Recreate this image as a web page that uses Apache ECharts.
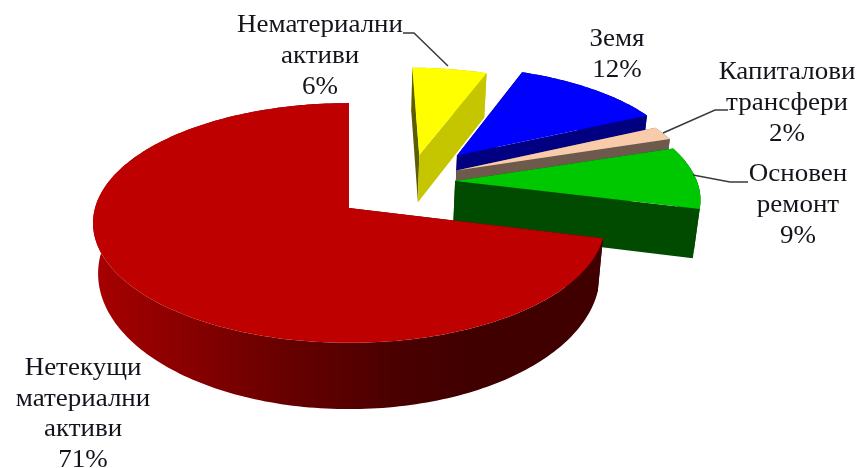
<!DOCTYPE html>
<html><head><meta charset="utf-8">
<style>html,body{margin:0;padding:0;background:#fff}#c{width:862px;height:468px;filter:blur(0.45px)}</style>
<script src="https://cdn.jsdelivr.net/npm/echarts@6/dist/echarts.min.js"></script>
</head><body><div id="c"></div>
<script>
// data
const names = ['Нематериални\nактиви', 'Земя', 'Капиталови\nтрансфери', 'Основен\nремонт', 'Нетекущи\nматериални\nактиви'];
const values = [6, 12, 2, 9, 71];

// styles
const topColors = ['#ffff00', '#0000ff', '#f8ccaa', '#00c800', '#be0000'];
const wallEnd = ['#c6c600', '#000080', '#6e5a4c', '#004b00', '#400000'];
const wallStart = ['#5c5c00', '#000060', '#6e5a4c', '#004b00', '#400000'];

// layout: projection of a tilted disc, and how far each slice is pulled out of it
const vx = 349, vy = 208, R = 254, Ry = 118, K = 0.125, H = 50, HN = 12, KZ = 0.02;
const pullU = [0.293, 0.45, 0.44, 0.43, 0];
const pullV = [-0.477, -0.47, -0.33, -0.235, 0];
const sliceScale = [0.92, 0.94, 0.97, 0.98, 1];
const labelPos = [[320, 25.5], [617, 39.5], [787, 72], [798, 174.5], [83, 369]];
const leaders = [
  [[403, 33], [414, 33], [448, 66]],
  null,
  [[663, 133], [715, 110], [728, 110]],
  [[693, 175], [730, 182], [748, 182]],
  null
];
const rimShade = { x0: 91, x1: 600, stops: [[91, '#a80000'], [158, '#920000'], [276, '#6a0000'], [395, '#4a0000'], [474, '#400000'], [600, '#400000']] };

const total = values.reduce((a, b) => a + b, 0);
const toRad = v => v / total * Math.PI * 2;
const starts = [];
values.reduce((acc, v, i) => { starts[i] = acc; return acc + toRad(v); }, 0);

function project(u, v, z) {
  const w = 1 - K * v + (z ? KZ : 0);
  return [vx + R * u / w, vy + (Ry * v + (z ? H + HN * Math.max(v, 0) : 0)) / w];
}
function rim(i, a, z) {
  const s = sliceScale[i];
  return project(pullU[i] + s * Math.sin(a), pullV[i] - s * Math.cos(a), z);
}
function poly(points, fill) {
  return { type: 'polygon', shape: { points }, style: { fill } };
}

function renderItem(params, api) {
  const i = params.dataIndex;
  const a0 = starts[i], a1 = a0 + toRad(api.value(0));
  const apexT = project(pullU[i], pullV[i], false), apexB = project(pullU[i], pullV[i], true);
  const steps = Math.max(8, Math.round((a1 - a0) / 0.02));
  const arcT = [], arcB = [];
  for (let s = 0; s <= steps; s++) {
    const a = a0 + (a1 - a0) * s / steps;
    arcT.push(rim(i, a, false));
    arcB.push(rim(i, a, true));
  }
  const shade = {
    type: 'linear', global: true, x: rimShade.x0, y: 0, x2: rimShade.x1, y2: 0,
    colorStops: rimShade.stops.map(([x, color]) => ({ offset: (x - rimShade.x0) / (rimShade.x1 - rimShade.x0), color }))
  };
  const children = [
    poly(arcT.concat(arcB.slice().reverse()), i === 4 ? shade : wallEnd[i]),
    poly([apexT, rim(i, a0, false), rim(i, a0, true), apexB], wallStart[i]),
    poly([apexT, rim(i, a1, false), rim(i, a1, true), apexB], wallEnd[i]),
    poly([apexT].concat(arcT), topColors[i])
  ];
  return { type: 'group', children };
}

const graphics = [];
names.forEach((n, i) => {
  graphics.push({
    type: 'text', x: labelPos[i][0], y: labelPos[i][1] - 15.5, z: 10, scaleX: 1.08,
    style: {
      text: n + '\n' + values[i] + '%', fill: '#14141c', align: 'center', verticalAlign: 'top',
      font: '25px "Liberation Serif"', lineHeight: i === 4 ? 30.5 : 31
    }
  });
  if (leaders[i]) graphics.push({
    type: 'polyline', z: 10, shape: { points: leaders[i] },
    style: { stroke: '#3a3a3a', lineWidth: 1.5, fill: null }
  });
});

const chart = echarts.init(document.getElementById('c'), null, { renderer: 'canvas' });
chart.setOption({
  animation: false,
  backgroundColor: '#fff',
  series: [{
    type: 'custom', coordinateSystem: 'none', renderItem,
    data: values.map(v => [v]), silent: true
  }],
  graphic: graphics
});
</script></body></html>
